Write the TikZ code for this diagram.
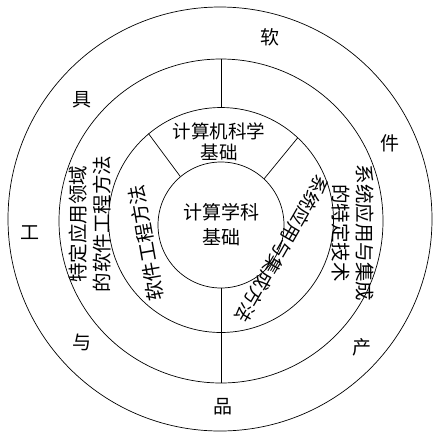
\documentclass[tikz,border=0pt]{standalone}
\usepackage{fontspec}
\setmainfont{Noto Sans CJK SC}
\begin{document}
\begin{tikzpicture}[x=1pt,y=-1pt,
  ring/.style={draw,circle,inner sep=0pt,line width=0.7pt},
  lbl/.style={inner sep=0pt,align=center,font=\fontsize{19.5}{24}\selectfont},
  ch/.style={inner sep=0pt,font=\fontsize{19}{19}\selectfont},
  sep/.style={line width=0.7pt}]
\useasboundingbox (0,0) rectangle (433,432);
\node[ring,minimum size=424pt] (outer) at (220,219) {};
\node[ring,minimum size=324pt] (mid) at (221,221) {};
\node[ring,minimum size=225pt] (sec) at (221,220) {};
\node[ring,minimum size=126pt] (inn) at (221,225) {};
\draw[sep] (mid.north) -- (sec.north);
\draw[sep] (inn.south) -- (mid.south);
\draw[sep] (sec.130) -- (inn.130);
\draw[sep] (sec.47) -- (inn.47);
\node[lbl,font=\fontsize{19}{25}\selectfont] (core) at (221,225) {计算学科\\基础};
\node[lbl,font=\fontsize{18.5}{21}\selectfont] (cs) at (219,142) {计算机科学\\基础};
\node[lbl,rotate=90] (dom) at (90,224) {特定应用领域\\的软件工程方法};
\node[lbl,rotate=-90] (sys) at (353,233) {系统应用与集成\\的特定技术};
\node[lbl,rotate=100] (se) at (146,243) {软件工程方法};
\node[lbl,font=\fontsize{18.5}{24}\selectfont,rotate=-120] (si) at (282,249) {系统应用与集成方法};
\node[ch] (c1) at (270,37) {软};
\node[ch] (c2) at (390,143) {件};
\node[ch] (c3) at (362,347) {产};
\node[ch] (c4) at (223,407) {品};
\node[ch] (c5) at (82,342) {与};
\node[ch] (c6) at (30,233) {工};
\node[ch] (c7) at (82,100) {具};
\end{tikzpicture}
\end{document}
